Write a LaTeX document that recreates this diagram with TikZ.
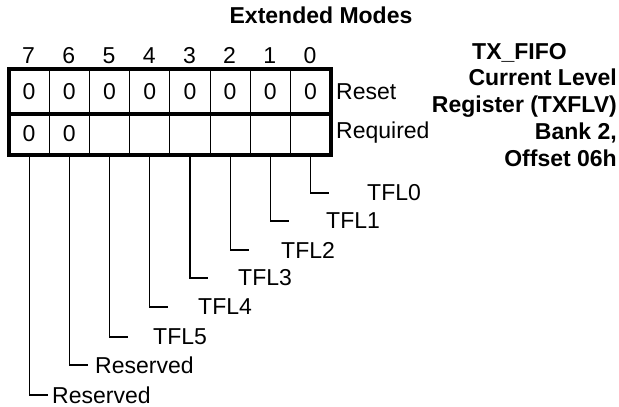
\documentclass[tikz,border=0pt]{standalone}
\usepackage{fontspec}
\setmainfont{Liberation Sans}
\begin{document}
\begin{tikzpicture}[
  x=1pt,
  y=-1pt,
  line join=miter,
  every node/.style={font=\fontsize{23}{26.7}\selectfont,inner sep=0pt},
  cell/.style={draw=black,line width=1pt,minimum width=40.2pt,anchor=north west},
  frame/.style={draw=black,line width=4pt},
  leader/.style={draw=black,line width=1.2pt}
]
  \useasboundingbox (0,0) rectangle (619,407);

  % Title and register name.
  \node[font=\fontsize{23}{26.7}\selectfont\bfseries] (title) at (321,15) {Extended Modes};
  \node[anchor=north east,align=right,font=\fontsize{23}{26.7}\selectfont\bfseries] (regname) at (617,43)
    {TX\_FIFO\hspace*{50pt}\\Current Level\\Register (TXFLV)\\Bank 2,\\Offset 06h};

  % Bit numbers and the two rows of cells.
  \foreach \b in {0,...,7} {
    \node[anchor=base] (num\b) at ({28.6+40.2*(7-\b)},63) {\b};
    \node[cell,minimum height=43.5pt] (rst\b) at ({8.5+40.2*(7-\b)},69) {0};
    \node[cell,minimum height=41pt] (req\b) at ({8.5+40.2*(7-\b)},112.5) {\ifnum\b>5 0\fi};
  }
  \node[anchor=west] (reset) at (336,92) {Reset};
  \node[anchor=west] (required) at (336,133) {Required};

  % Heavy outline round the register.
  \draw[frame] (rst7.north west) rectangle (req0.south east);
  \draw[frame] (rst7.south west) -- (rst0.south east);

  % Field leaders.
  \foreach \b/\y/\x/\txt in {0/193/367/TFL0,1/221/326/TFL1,2/250/281/TFL2,3/278/238/TFL3,
                             4/307/198/TFL4,5/337/153/TFL5,6/365/95/Reserved,7/395/52/Reserved} {
    \coordinate (stub\b) at ({28.6+40.2*(7-\b)+19},\y);
    \node[anchor=west] (field\b) at (\x,\y) {\txt};
    \draw[leader] (req\b.south) |- (stub\b);
  }
\end{tikzpicture}
\end{document}
